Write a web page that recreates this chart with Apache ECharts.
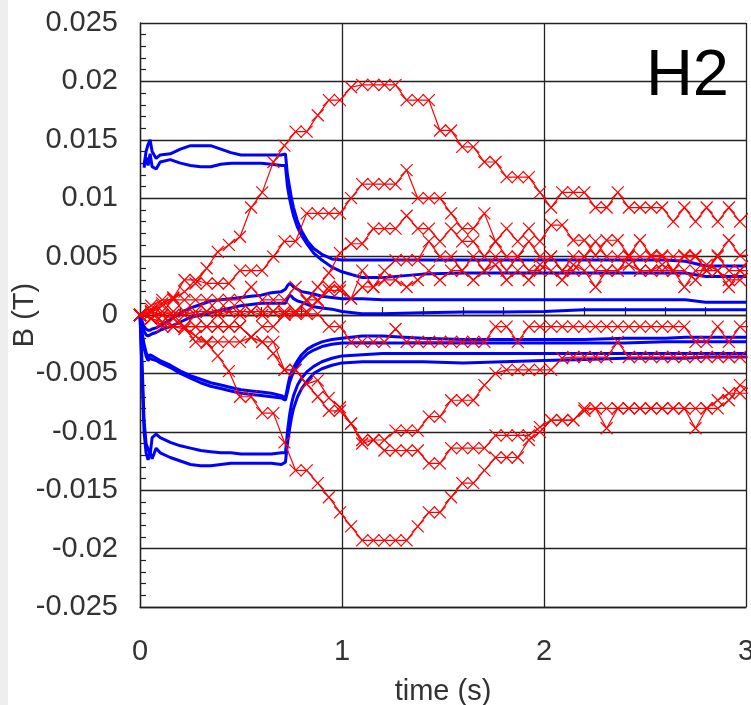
<!DOCTYPE html>
<html>
<head>
<meta charset="utf-8">
<title>H2</title>
<script src="https://cdn.jsdelivr.net/npm/echarts@6/dist/echarts.min.js"></script>
<style>
  html, body { margin: 0; padding: 0; background: #fff; }
  #chart { width: 751px; height: 705px; }
</style>
</head>
<body>
<div id="chart"></div>
<script>
// all field values in mT, converted to T when the series are built

// time stamps of the red (measured, x marker) traces
const redT = [
  0, 0.055, 0.11, 0.165, 0.22, 0.275, 0.33, 0.385, 0.44, 0.495,
  0.55, 0.605, 0.66, 0.715, 0.77, 0.825, 0.88, 0.935, 0.99, 1.045,
  1.1, 1.155, 1.21, 1.265, 1.32, 1.375, 1.43, 1.485, 1.54, 1.595,
  1.65, 1.705, 1.76, 1.815, 1.87, 1.925, 1.98, 2.035, 2.09, 2.145,
  2.2, 2.255, 2.31, 2.365, 2.42, 2.475, 2.53, 2.585, 2.64, 2.695,
  2.75, 2.805, 2.86, 2.915, 2.97, 3.025
]

const red1 = [
  0, 0.2, 0.8, 1.4, 2.0, 2.7, 4.0, 5.4, 6.0, 6.7,
  9.2, 10.5, 13.1, 14.5, 15.7, 15.7, 17.1, 18.4, 18.4, 19.5,
  19.7, 19.7, 19.7, 19.7, 18.4, 18.4, 18.4, 15.8, 15.8, 14.4,
  14.4, 13.1, 13.1, 11.8, 11.8, 11.8, 10.5, 9.2, 10.5, 10.5,
  10.5, 9.2, 9.2, 10.5, 9.2, 9.2, 9.2, 9.2, 8.0, 9.2,
  8.0, 9.2, 8.0, 9.2, 8.0, 9.0
]
const red2 = [
  0, 0.5, 1.0, 1.5, 3.0, 3.0, 2.7, 2.7, 2.7, 3.8,
  3.8, 3.8, 5.0, 6.3, 6.3, 8.7, 8.7, 8.7, 8.7, 10.0,
  11.2, 11.2, 11.2, 11.2, 12.4, 10.0, 10.0, 10.0, 8.7, 7.4,
  7.4, 8.7, 6.3, 7.4, 6.3, 7.4, 6.3, 7.7, 7.7, 6.4,
  6.4, 5.1, 6.4, 6.4, 5.1, 6.4, 5.1, 5.1, 3.8, 5.1,
  5.1, 3.8, 5.1, 6.4, 5.1, 5.1
]
const red3 = [
  0, 0.3, 0.0, 0.3, 0.0, 0.3, 0.3, 0.3, 0.3, 0.3,
  0.3, 0.3, 0.3, 0.3, 0.3, 1.2, 2.4, 3.6, 5.3, 6.1,
  6.1, 7.4, 7.4, 7.4, 8.5, 7.4, 7.4, 6.3, 7.4, 6.3,
  6.3, 5.0, 6.3, 5.0, 5.0, 6.3, 5.0, 5.0, 3.8, 5.0,
  5.0, 6.3, 5.0, 5.0, 5.0, 5.0, 5.0, 5.0, 5.0, 5.0,
  5.0, 3.8, 5.0, 3.8, 3.8, 5.0
]
const red4 = [
  0, -0.3, 0.3, 0.0, 0.3, 0.0, 0.3, 0.0, 0.3, 0.0,
  0.3, 0.0, 0.3, 0.0, 0.3, 0.3, 1.2, 2.4, 2.4, 1.4,
  3.8, 2.4, 3.8, 4.7, 4.7, 4.7, 6.3, 5.0, 5.0, 3.8,
  5.0, 3.8, 5.0, 3.8, 5.0, 3.8, 3.8, 5.0, 3.8, 3.8,
  5.0, 3.8, 3.8, 3.8, 5.0, 3.8, 3.8, 3.8, 3.8, 2.4,
  3.8, 3.8, 3.8, 2.4, 3.8, 3.8
]
const red5 = [
  0, 0.8, 1.3, 1.3, 1.3, 1.3, 1.3, 1.3, 1.3, 1.3,
  2.4, 1.3, 1.3, 1.3, 2.4, 1.3, 1.3, 2.1, 2.1, 1.4,
  2.4, 2.4, 3.0, 3.0, 2.4, 3.0, 3.8, 3.0, 3.8, 3.8,
  3.0, 3.8, 4.3, 3.0, 3.8, 3.0, 4.3, 3.8, 3.0, 4.3,
  3.8, 2.4, 3.8, 3.8, 4.3, 3.8, 3.8, 4.3, 3.8, 3.8,
  3.0, 4.3, 3.8, 3.0, 3.0, 3.8
]
const red6 = [
  0, -0.3, -0.6, -1.0, -1.2, -1.8, -2.4, -3.5, -4.8, -7.0,
  -7.0, -8.4, -8.4, -10.9, -13.3, -13.3, -14.4, -15.6, -16.9, -18.1,
  -19.3, -19.3, -19.3, -19.3, -19.3, -18.1, -16.9, -16.9, -15.6, -14.4,
  -14.4, -13.3, -12.2, -12.2, -12.2, -10.7, -10.0, -9.0, -9.0, -9.0,
  -8.2, -8.0, -8.0, -8.0, -8.0, -8.0, -8.0, -8.0, -8.0, -8.0,
  -8.0, -8.0, -7.3, -6.7, -6.7, -6.7
]
const red7 = [
  0, -0.3, -0.6, -1.0, -1.0, -2.3, -2.3, -2.3, -2.3, -2.3,
  -1.9, -2.3, -3.3, -4.7, -4.7, -5.9, -7.0, -8.2, -8.2, -9.3,
  -10.7, -10.7, -11.6, -11.6, -11.6, -11.6, -12.7, -12.7, -11.4, -11.4,
  -11.4, -11.4, -10.3, -10.3, -10.3, -10.3, -9.6, -9.0, -9.0, -9.0,
  -8.0, -8.0, -9.7, -8.0, -8.0, -8.0, -8.0, -8.0, -8.0, -8.0,
  -9.7, -8.0, -8.0, -7.3, -6.0, -6.4
]
const red8 = [
  0, -0.3, -1.0, -1.0, -1.0, -1.0, -1.0, -1.0, -1.0, -1.0,
  -1.9, -2.3, -2.3, -4.7, -4.7, -5.9, -5.6, -7.1, -7.9, -9.3,
  -11.0, -10.7, -10.7, -9.9, -9.9, -9.9, -8.7, -8.7, -7.3, -7.3,
  -7.3, -6.0, -5.0, -4.7, -4.7, -4.7, -4.7, -4.7, -3.7, -3.6,
  -3.6, -3.6, -3.6, -2.3, -3.6, -3.6, -3.6, -3.6, -3.6, -3.6,
  -3.6, -3.6, -3.6, -3.6, -3.6, -3.6
]
const red9 = [
  0, 0.3, 0.0, -0.3, -1.0, -1.0, -1.0, -1.0, -1.0, -1.0,
  -1.9, -1.0, -1.0, 0.1, 0.1, 0.1, 0.1, -1.0, -1.0, -2.3,
  -2.3, -2.3, -2.3, -1.2, -2.3, -2.3, -2.3, -2.3, -2.3, -2.3,
  -2.3, -2.3, -1.0, -1.0, -2.3, -1.0, -1.0, -1.0, -1.0, -1.0,
  -1.0, -1.0, -1.0, -1.0, -1.0, -1.0, -1.0, -1.0, -1.0, -1.0,
  -2.3, -2.3, -1.0, -2.3, -1.0, -1.0
]

// time stamps of the blue (computed) curves
const blueT = [
  0, 0.01, 0.02, 0.03, 0.04, 0.05, 0.06, 0.08, 0.1, 0.15,
  0.2, 0.25, 0.3, 0.35, 0.4, 0.45, 0.5, 0.55, 0.6, 0.65,
  0.7, 0.72, 0.73, 0.74, 0.75, 0.76, 0.78, 0.8, 0.83, 0.86,
  0.9, 0.95, 1.0, 1.1, 1.2, 1.4, 1.6, 1.8, 2.0, 2.2,
  2.4, 2.6, 2.7, 2.8, 3.0
]

const blueA = [
  null, null, 12.8, 14.0, 14.6, 15.0, 14.0, 13.4, 13.7, 13.8,
  14.2, 14.5, 14.5, 14.5, 14.2, 13.9, 13.7, 13.7, 13.7, 13.7,
  13.7, 13.8, 12.0, 11.0, 10.0, 9.2, 8.0, 7.2, 6.3, 5.7,
  5.2, 4.8, 4.7, 4.7, 4.7, 4.7, 4.7, 4.7, 4.7, 4.7,
  4.7, 4.7, 4.6, 4.2, 4.2
]
const blueB = [
  null, null, 12.6, 13.5, 12.8, 13.8, 12.7, 12.5, 13.1, 13.3,
  13.0, 12.8, 12.7, 12.7, 12.9, 13.0, 13.0, 13.0, 13.0, 12.9,
  12.8, 12.8, 11.0, 10.0, 9.2, 8.5, 7.5, 6.8, 6.0, 5.3,
  4.7, 4.1, 3.7, 3.2, 3.2, 3.5, 3.6, 3.6, 3.6, 3.6,
  3.6, 3.6, 3.6, 3.3, 3.3
]
const blueG = [
  0, -0.5, -1.0, -1.2, -1.3, -1.3, -1.2, -1.1, -0.9, -0.4,
  0.2, 0.6, 0.9, 1.2, 1.3, 1.4, 1.5, 1.6, 1.7, 1.9,
  2.0, 2.2, 2.5, 2.7, 2.6, 2.4, 2.2, 2.0, 1.9, 1.8,
  1.6, 1.5, 1.4, 1.4, 1.3, 1.3, 1.3, 1.3, 1.3, 1.3,
  1.3, 1.3, 1.3, 1.1, 1.1
]
const blueH = [
  0, -0.8, -1.4, -1.7, -1.8, -1.7, -1.6, -1.5, -1.3, -1.0,
  -0.6, -0.2, 0.0, 0.2, 0.4, 0.6, 0.8, 0.9, 1.0, 1.0,
  1.0, 1.0, 1.4, 1.7, 1.6, 1.4, 1.2, 1.1, 0.9, 0.7,
  0.6, 0.5, 0.3, 0.1, 0.1, 0.2, 0.25, 0.25, 0.3, 0.45,
  0.45, 0.45, 0.45, 0.45, 0.45
]
const blueE = [
  0, -1.5, -2.5, -3.2, -3.6, -3.4, -3.5, -3.7, -3.9, -4.3,
  -4.8, -5.2, -5.5, -5.8, -6.0, -6.2, -6.4, -6.5, -6.6, -6.7,
  -6.9, -7.1, -6.2, -5.4, -4.9, -4.5, -3.9, -3.4, -2.9, -2.6,
  -2.3, -2.1, -2.0, -1.8, -1.8, -2.0, -2.1, -2.1, -2.1, -2.1,
  -2.0, -2.0, -1.9, -1.9, -1.9
]
const blueF = [
  0, -1.8, -2.8, -3.5, -3.9, -3.7, -3.8, -3.9, -4.1, -4.5,
  -5.0, -5.4, -5.8, -6.1, -6.3, -6.5, -6.7, -6.8, -6.9, -7.0,
  -7.1, -7.3, -6.6, -5.8, -5.3, -4.9, -4.3, -3.8, -3.3, -3.0,
  -2.7, -2.5, -2.4, -2.4, -2.4, -2.4, -2.4, -2.4, -2.4, -2.4,
  -2.4, -2.3, -2.3, -2.3, -2.3
]
const blueC = [
  0, -4.0, -9.0, -11.0, -11.5, -12.0, -10.5, -10.2, -10.5, -10.9,
  -11.2, -11.4, -11.6, -11.7, -11.8, -11.8, -11.9, -11.9, -11.9, -11.9,
  -11.8, -11.8, -10.0, -8.6, -7.6, -6.9, -6.0, -5.4, -4.8, -4.4,
  -4.0, -3.7, -3.5, -3.4, -3.3, -3.3, -3.3, -3.3, -3.3, -3.3,
  -3.3, -3.3, -3.3, -3.3, -3.3
]
const blueD = [
  0, -5.0, -10.0, -11.8, -12.4, -11.8, -12.3, -11.4, -11.8, -12.2,
  -12.5, -12.8, -12.9, -12.9, -12.8, -12.7, -12.7, -12.7, -12.7, -12.7,
  -12.8, -12.6, -11.0, -9.8, -8.8, -8.0, -7.0, -6.3, -5.6, -5.0,
  -4.6, -4.3, -4.1, -4.0, -4.0, -4.0, -4.1, -4.0, -3.9, -3.8,
  -3.7, -3.7, -3.7, -3.6, -3.6
]

const xTicks = [0, 1, 2, 3]
const yRange = [-0.025, 0.025]

const FONT = '"Liberation Sans", Arial, sans-serif'
const FONT_SIZE = 29
const GRID_COLOR = '#222'
const TEXT_COLOR = '#333'

// mT -> [t, T]
const toPairs = (times, values) =>
  times.map((t, i) => [t, values[i]]).filter(p => p[1] != null).map(p => [p[0], p[1] / 1000])

const blueSeries = [blueA, blueB, blueG, blueH, blueE, blueF, blueC, blueD].map(vals => ({
  type: 'line',
  data: toPairs(blueT, vals),
  showSymbol: false,
  lineStyle: { color: '#0000ff', width: 3 },
  z: 2,
}))

const redSeries = [red1, red2, red3, red4, red5, red6, red7, red8, red9].map(vals => ({
  type: 'line',
  data: toPairs(redT, vals),
  symbol: 'path://M0,0L10,10M0,10L10,0',
  symbolSize: 12,
  showSymbol: true,
  itemStyle: { color: 'rgba(0,0,0,0)', borderColor: '#ff0000', borderWidth: 1.2 },
  lineStyle: { color: '#ff0000', width: 1.2 },
  z: 3,
}))

const chart = echarts.init(document.getElementById('chart'), null, { renderer: 'canvas' })

chart.setOption({
  animation: false,
  backgroundColor: '#fff',
  textStyle: { fontFamily: FONT },
  grid: { left: 140, top: 23, right: 5, bottom: 98, outerBoundsMode: 'none', containLabel: false },
  xAxis: [
    {
      type: 'value',
      min: xTicks[0],
      max: xTicks[xTicks.length - 1],
      interval: 1,
      name: 'time (s)',
      nameLocation: 'middle',
      nameGap: 70,
      nameMoveOverlap: false,
      nameTextStyle: { fontSize: FONT_SIZE, color: TEXT_COLOR, fontFamily: FONT },
      axisLine: { onZero: false, lineStyle: { color: GRID_COLOR, width: 1.3 } },
      axisTick: { show: false },
      axisLabel: { fontSize: FONT_SIZE, color: TEXT_COLOR, fontFamily: FONT, margin: 30 },
      splitLine: { show: true, lineStyle: { color: GRID_COLOR, width: 1.3 } },
    },
    {
      // the axis drawn through B = 0, with its small ticks
      type: 'value',
      position: 'bottom',
      min: xTicks[0],
      max: xTicks[xTicks.length - 1],
      interval: 1,
      axisLine: { show: true, onZero: true, lineStyle: { color: GRID_COLOR, width: 1.3 } },
      axisTick: { show: false, inside: true },
      minorTick: { show: true, splitNumber: 5, length: 8, lineStyle: { color: GRID_COLOR, width: 1.2 } },
      axisLabel: { show: false },
      splitLine: { show: false },
    },
  ],
  yAxis: {
    type: 'value',
    min: yRange[0],
    max: yRange[1],
    interval: 0.005,
    name: 'B (T)',
    nameLocation: 'middle',
    nameGap: 101,
    nameMoveOverlap: false,
    nameTextStyle: { fontSize: FONT_SIZE, color: TEXT_COLOR, fontFamily: FONT },
    axisLine: { show: true, lineStyle: { color: GRID_COLOR, width: 1.3 } },
    axisTick: { show: true, inside: true, length: 6, lineStyle: { color: GRID_COLOR } },
    minorTick: { show: true, splitNumber: 5, length: 6, lineStyle: { color: GRID_COLOR, width: 1.2 } },
    axisLabel: { fontSize: FONT_SIZE, color: TEXT_COLOR, fontFamily: FONT, margin: 22 },
    splitLine: { show: true, lineStyle: { color: GRID_COLOR, width: 1.3 } },
  },
  graphic: [
    {
      type: 'rect',
      left: 0,
      top: 0,
      shape: { width: 8, height: 705 },
      style: { fill: '#eeeeee' },
      silent: true,
    },
    {
      type: 'text',
      x: 729,
      y: 77,
      style: {
        text: 'H2',
        fontSize: 65,
        fontFamily: FONT,
        fill: '#000',
        textAlign: 'right',
        textVerticalAlign: 'middle',
      },
      z: 10,
      silent: true,
    },
  ],
  series: [...blueSeries, ...redSeries],
})
</script>
</body>
</html>
